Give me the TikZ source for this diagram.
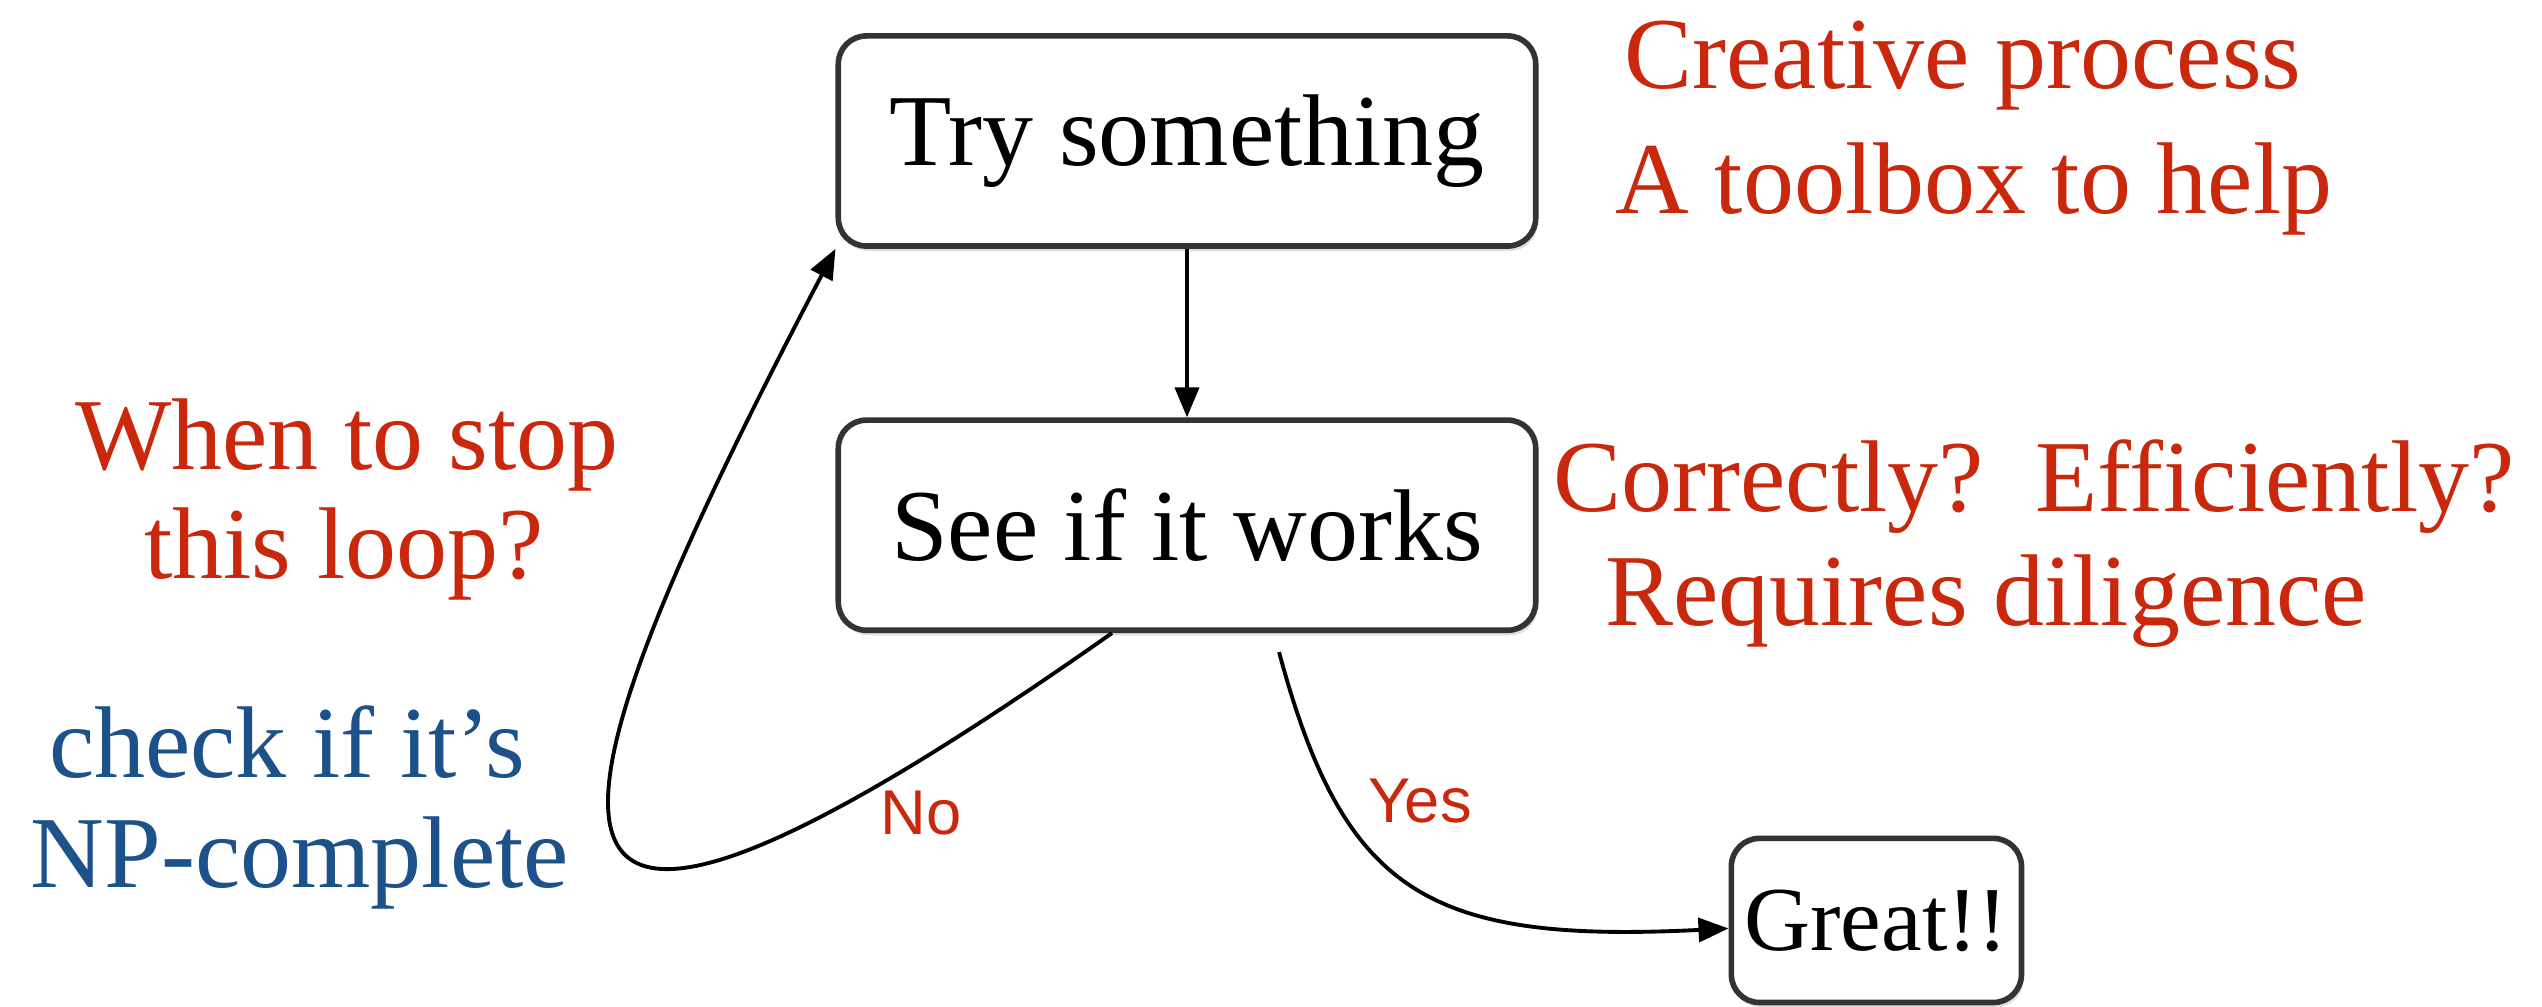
\documentclass[tikz,border=0pt]{standalone}
\usepackage{fontspec}
\setmainfont{Liberation Serif}
\newfontfamily\labelfont{Liberation Sans}
\usetikzlibrary{arrows.meta,positioning,shadows}
\definecolor{slidered}{RGB}{201,40,12}
\definecolor{slideblue}{RGB}{28,81,137}
\definecolor{boxgray}{RGB}{51,51,51}

\tikzset{
  stepbox/.style={draw=boxgray, line width=1.6pt, rounded corners=0.28cm, fill=white,
    drop shadow={shadow xshift=0.02cm, shadow yshift=-0.05cm, opacity=0.25},
    minimum width=6.97cm, minimum height=2.1cm, font=\fontsize{29}{34}\selectfont},
  remark/.style={text=slidered, font=\fontsize{29}{34}\selectfont, anchor=base},
  hint/.style={text=slideblue, font=\fontsize{29}{34}\selectfont, anchor=base},
  answer/.style={text=slidered, font=\labelfont\fontsize{18}{22}\selectfont, anchor=base},
}

\begin{document}
\begin{tikzpicture}[x=0.01cm, y=-0.01cm, node distance=3.84cm, on grid,
    >={Triangle[length=0.3cm,width=0.24cm]}, line width=1.1pt]
	\useasboundingbox (0,0) rectangle (2542,1007);
	\node[stepbox] (try) at (1187,141) {Try something};
	\node[stepbox, below = of try] (see) {See if it works};
	\node[stepbox, minimum width=2.9cm, minimum height=1.64cm, inner xsep=0.1cm,
	  font=\fontsize{26}{30}\selectfont,
	  below right = 3.95cm and 6.89cm of see] (great) {Great!!};
	
	% remarks around the loop
	\node[remark] (creative) at (1963,89) {Creative process};
	\node[remark] (toolbox) at (1974,214) {A toolbox to help};
	\node[remark] (correct) at (2034,512) {Correctly?~~Efficiently?};
	\node[remark] (diligence) at (1986,626) {Requires diligence};
	\node[remark] (when) at (347,470) {When to stop};
	\node[remark] (loop) at (344,579) {this loop?};
	\node[hint] (check) at (287,778) {check if it’s};
	\node[hint] (npc) at (300,888) {NP-complete};
	\node[answer] (no) at (921,835) {No};
	\node[answer] (yes) at (1420,823) {Yes};
	
	\path[->] (try) edge (see);
	\draw[->] ([xshift=-0.75cm]see.south) .. controls +(-640,450) and +(-315,600) .. (try.south west);
	\draw[->] ([xshift=0.92cm,yshift=-0.19cm]see.south) .. controls +(65,242) and +(-300,15) .. ([yshift=-0.08cm]great.west);
\end{tikzpicture}
\end{document}
